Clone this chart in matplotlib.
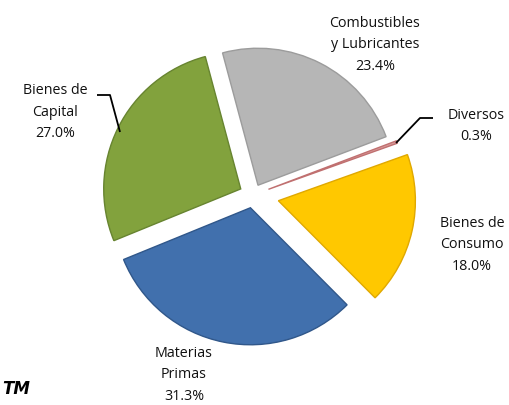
import matplotlib
matplotlib.use("Agg")
import matplotlib.pyplot as plt

categories = ["Combustibles\ny Lubricantes", "Diversos", "Bienes de\nConsumo", "Materias\nPrimas", "Bienes de\nCapital"]
values = [23.4, 0.3, 18.0, 31.3, 27.0]
colors = ["#b6b6b6", "#d99a9a", "#ffc800", "#4170ad", "#82a23d"]
edge_colors = ["#9c9c9c", "#c07070", "#e0a800", "#30578a", "#678430"]
explode = [0.08, 0.12, 0.19, 0.095, 0.10]

W, H = 510, 405
CX, CY, R = 253, 195, 137

def px(x, y):
    return ((x - CX) / R, (CY - y) / R)

fig = plt.figure(figsize=(W / 100, H / 100), dpi=100)
ax = fig.add_axes([0, 0, 1, 1])

wedges, _ = ax.pie(values, colors=colors, startangle=105, counterclock=False,
                   explode=explode, radius=1.0, center=(0, 0), frame=True,
                   wedgeprops=dict(linewidth=1.0))
for w, ec in zip(wedges, edge_colors):
    w.set_edgecolor(ec)
ax.set_xlim(-CX / R, (W - CX) / R)
ax.set_ylim(-(H - CY) / R, CY / R)
ax.set_aspect("auto")
ax.axis("off")

font = dict(family=["Open Sans", "DejaVu Sans"], fontsize=10.3, ha="center", va="center",
            linespacing=1.62, color="#111111")

label_px = [(375, 45), (476, 126), (472, 245), (184, 375), (55, 112)]
for cat, v, (lx, ly) in zip(categories, values, label_px):
    ax.text(*px(lx, ly), f"{cat}\n{v:.1f}%", **font)

# leader lines
for pts in ([(396, 143), (420, 118), (433, 118)], [(97, 95), (110, 95), (120, 132)]):
    xs, ys = zip(*[px(*p) for p in pts])
    ax.plot(xs, ys, color="black", lw=1.3, solid_capstyle="butt")

ax.text(*px(2, 389), "TM", fontsize=12, fontweight="bold", fontstyle="italic",
        family=["DejaVu Sans"], ha="left", va="center")

fig.savefig("out.png", dpi=100)
